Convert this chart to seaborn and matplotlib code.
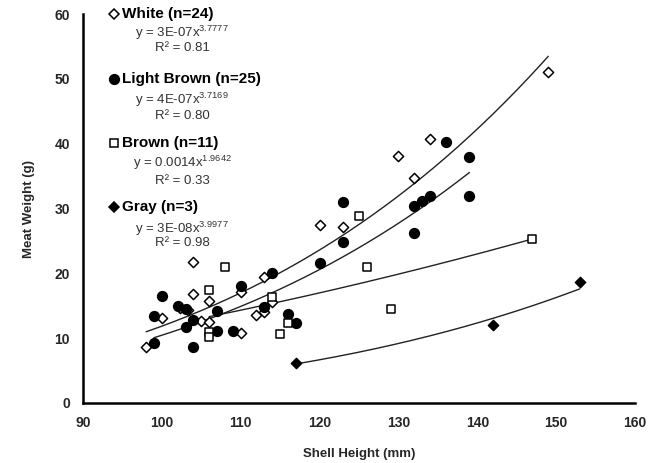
import numpy as np
import pandas as pd
import matplotlib
matplotlib.use("Agg")
import matplotlib.pyplot as plt
import seaborn as sns

# ---------------- data ----------------
white_x = [98, 100, 102.3, 103.3, 104, 104, 105, 106, 106, 110, 110, 112, 113, 113, 114,
           120, 123, 130, 132, 134, 149]
white_y = [8.6, 13.1, 14.7, 14.3, 21.7, 16.8, 12.65, 15.7, 12.45, 17.1, 10.85, 13.6, 19.4, 14.0, 15.6,
           27.5, 27.2, 38.1, 34.7, 40.7, 51.0]

lbrown_x = [99, 99, 100, 102, 103, 103, 104, 104, 107, 107, 109, 110, 113, 114, 116, 117,
            120, 123, 123, 132, 133, 134, 132, 136, 139, 139]
lbrown_y = [13.4, 9.3, 16.5, 14.9, 14.5, 11.7, 12.8, 8.6, 14.2, 11.1, 11.1, 18.0, 14.8, 20.1, 13.7, 12.3,
            21.6, 31.0, 24.9, 30.45, 31.1, 32.0, 26.2, 40.2, 38.0, 32.0]

brown_x = [106, 108, 106, 106, 114, 115, 116, 125, 126, 129, 147]
brown_y = [17.5, 20.9, 11.0, 10.2, 16.4, 10.65, 12.3, 28.9, 21.0, 14.5, 25.3]

gray_x = [117, 142, 153]
gray_y = [6.1, 12.0, 18.7]

group_names = ["White (n=24)", "Light Brown (n=25)", "Brown (n=11)", "Gray (n=3)"]
eq_coef_text = ["3E-07", "4E-07", "0.0014", "3E-08"]
eq_exp_text = ["3.7777", "3.7169", "1.9642", "3.9977"]
r2_text = ["0.81", "0.80", "0.33", "0.98"]
# unrounded trendline coefficients (power fit y = a * x^b)
fit_a = [3.3e-7, 3.85e-7, 0.0014, 3.25e-8]
fit_b = [3.7777, 3.7169, 1.9642, 3.9977]

x_ticks = [90, 100, 110, 120, 130, 140, 150, 160]
y_ticks = [0, 10, 20, 30, 40, 50, 60]

# ---------------- style ----------------
sns.set_style("white")
plt.rcParams['font.family'] = ['Liberation Sans', 'DejaVu Sans']
plt.rcParams['mathtext.default'] = 'regular'

W, H = 658, 463
fig = plt.figure(figsize=(W / 100, H / 100), dpi=100)
ax = fig.add_axes([83 / W, 1 - 403 / H, (635 - 83) / W, (403 - 14) / H])

groups = [
    (white_x, white_y, "D", "white", 5.2),
    (lbrown_x, lbrown_y, "o", "black", 7.0),
    (brown_x, brown_y, "s", "white", 6.0),
    (gray_x, gray_y, "D", "black", 5.2),
]

for i, (gx, gy, mk, fc, ms) in enumerate(groups):
    df = pd.DataFrame({"x": gx, "y": gy})
    sns.scatterplot(data=df, x="x", y="y", marker=mk, s=ms ** 2, facecolor=fc,
                    edgecolor="black", linewidth=1.1, ax=ax, zorder=3, legend=False)
    xs = np.linspace(min(gx), max(gx), 200)
    ys = fit_a[i] * xs ** fit_b[i]
    sns.lineplot(x=xs, y=ys, color="#222222", linewidth=1.0, ax=ax, zorder=2, legend=False)

ax.set_xlim(90, 160)
ax.set_ylim(0, 60)
ax.set_xticks(x_ticks)
ax.set_yticks(y_ticks)
ax.set_xticklabels([str(t) for t in x_ticks], fontweight="bold", fontsize=10)
ax.set_yticklabels([str(t) for t in y_ticks], fontweight="bold", fontsize=10)
ax.tick_params(axis="both", direction="in", length=3, width=1.2, color="black", pad=9.5)
for s in ["top", "right"]:
    ax.spines[s].set_visible(False)
for s in ["left", "bottom"]:
    ax.spines[s].set_color("black")
    ax.spines[s].set_linewidth(1.8)
ax.set_xlabel("Shell Height (mm)", fontweight="bold", fontsize=9.5, labelpad=13)
ax.set_ylabel("Meat Weight (g)", fontweight="bold", fontsize=9.5, labelpad=14)
ax.grid(False)

# ---------------- legend / equations ----------------
def fx(px):
    return px / W

def fy(py):
    return 1 - py / H

leg_rows = [(14, 33, 48), (79, 100, 116), (143, 163, 181), (207, 229, 243)]
leg_markers = [("D", "white", 5.2), ("o", "black", 7.0), ("s", "white", 6.0), ("D", "black", 5.2)]
for i, (ty, ey, ry) in enumerate(leg_rows):
    mk, fc, ms = leg_markers[i]
    fig.lines.append(matplotlib.lines.Line2D([fx(114)], [fy(ty)], marker=mk, markersize=ms,
                                             markerfacecolor=fc, markeredgecolor="black",
                                             markeredgewidth=1.1, linestyle="none",
                                             transform=fig.transFigure))
    fig.text(fx(122), fy(ty), group_names[i], fontsize=11, fontweight="bold",
             ha="left", va="center", color="black")
    fig.text(fx(182), fy(ey), "y = %sx$^{%s}$" % (eq_coef_text[i], eq_exp_text[i]),
             fontsize=9.5, ha="center", va="center", color="#333333")
    fig.text(fx(182), fy(ry), "R\u00b2 = %s" % r2_text[i],
             fontsize=9.5, ha="center", va="center", color="#333333")

fig.savefig("out.png", dpi=100)
